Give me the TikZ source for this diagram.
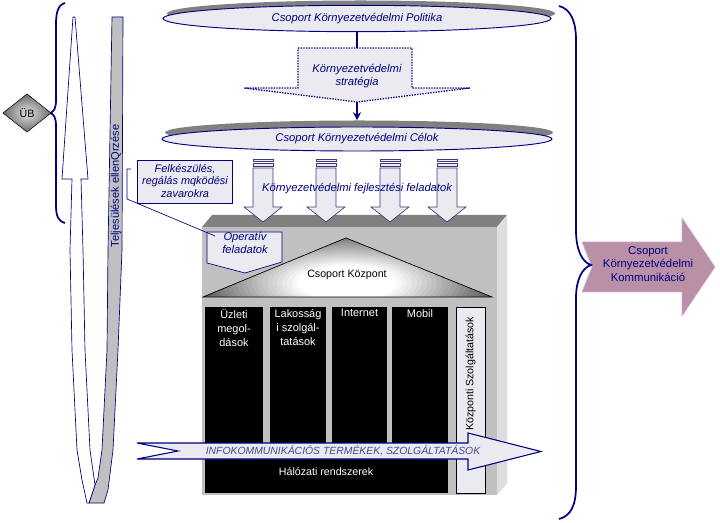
\documentclass[tikz,border=0pt]{standalone}
\usepackage{fontspec}
\setmainfont{Liberation Sans}
\usetikzlibrary{shapes.geometric,arrows.meta}
\definecolor{navy}{RGB}{0,0,128}
\definecolor{lightfill}{RGB}{234,234,240}
\definecolor{shadowgrey}{RGB}{128,128,128}
\definecolor{bldtop}{RGB}{128,128,128}
\definecolor{bldfront}{RGB}{192,192,192}
\definecolor{bldside}{RGB}{222,222,226}
\definecolor{mauve}{RGB}{186,144,166}
\definecolor{mauveline}{RGB}{205,175,215}
\definecolor{infotext}{RGB}{72,72,140}
\definecolor{arrowline}{RGB}{60,60,120}
\pgfdeclareradialshading{diamshade}{\pgfpoint{0bp}{0bp}}{color(0bp)=(rgb,1:red,0.88;green,0.88;blue,0.88); color(36bp)=(rgb,1:red,0.22;green,0.22;blue,0.22); color(50bp)=(rgb,1:red,0.22;green,0.22;blue,0.22)}
\begin{document}
\begin{tikzpicture}[x=0.75pt,y=-0.75pt,
  every node/.style={font=\fontsize{8}{10}\selectfont, inner sep=0pt, align=center},
  itext/.style={text=navy, font=\fontsize{8.4}{10}\selectfont\itshape},
  ellmain/.style={ellipse, draw=navy, fill=lightfill, line width=0.7pt},
  ellshadow/.style={ellipse, fill=shadowgrey},
  panel/.style={draw=navy, fill=lightfill, line width=0.5pt},
  bigbrace/.style={draw=navy, line width=1.3pt},
  conn/.style={draw=navy, line width=1.3pt},
  downarrow/.style={draw=arrowline, fill=lightfill, line width=0.5pt},
  coltext/.style={text=white, anchor=north, font=\fontsize{8.2}{10.7}\selectfont}
]
\useasboundingbox (0,0) rectangle (720,523);

% ---------- top ellipses and strategy ----------
\node[ellshadow, minimum width=291pt, minimum height=19.5pt] (politikashadow) at (361,13.5) {};
\node[ellmain, minimum width=291pt, minimum height=19.8pt, text=navy, font=\fontsize{8.4}{10}\selectfont\itshape] (politika) at (357,18.5) {Csoport Környezetvédelmi Politika};

\draw[draw=navy, fill=lightfill, line width=1pt, dash pattern=on 1pt off 1pt]
  (298,48) -- (412,48) -- (412,88) -- (470,88) -- (357,102) -- (244,88) -- (298,88) -- cycle;
\node[itext] (strategia) at (357,76) {Környezetvédelmi\\stratégia};
\coordinate (stratTop) at (357,48);
\coordinate (stratBot) at (357,102);

\node[ellshadow, minimum width=291pt, minimum height=18pt] (celokshadow) at (359,132.5) {};
\node[ellmain, minimum width=292.5pt, minimum height=18pt, text=navy, font=\fontsize{8.4}{10}\selectfont\itshape] (celok) at (357,139) {Csoport Környezetvédelmi Célok};

\draw[conn] (politika.south) -- (stratTop);
\draw[conn, -{Stealth[length=6pt,width=6pt]}] (stratBot) -- (stratBot |- celokshadow.north);

% ---------- building ----------
\fill[bldtop] (202,227) -- (212,215) -- (507,215) -- (497,227) -- cycle;
\fill[bldside] (497,227) -- (507,215) -- (507,484) -- (497,495) -- cycle;
\fill[bldfront] (202,227) rectangle (497,495);

\begin{scope}
  \clip (203,297) -- (346,238) -- (492,297) -- cycle;
  \foreach \i in {0,...,28} {
    \pgfmathsetmacro\rx{(160-5*\i)*0.75}
    \pgfmathsetmacro\ry{(160-5*\i)*0.75*0.35}
    \pgfmathsetmacro\wv{min(100,30+3.2*\i)}
    \fill[white!\wv!black] (347,283) ellipse [x radius=\rx pt, y radius=\ry pt];
  }
\end{scope}
\draw[black, line width=0.5pt] (203,297) -- (346,238) -- (492,297) -- cycle;
\node (kozpont) at (347,275) {Csoport Központ};

\fill[black] (205,307) rectangle (263,460);
\fill[black] (270,307) rectangle (326,460);
\fill[black] (332,307) rectangle (387,460);
\fill[black] (392,307) rectangle (448,460);
\fill[black] (205,450) rectangle (448,493);
\node[coltext] (uzleti) at (234,309) {Üzleti\\megol-\\dások};
\node[coltext] (lakossag) at (298,309) {Lakosság\\i szolgál-\\tatások};
\node[coltext] (internet) at (359.5,309) {Internet};
\node[coltext] (mobil) at (420,309) {Mobil};

\draw[black, fill=lightfill, line width=0.6pt] (456,307) rectangle (485,493);
\node[rotate=90] (kozpszolg) at (470.5,374) {Központi Szolgáltatások};

% big horizontal arrow
\draw[draw=navy, fill=lightfill, line width=0.8pt]
  (137,443) -- (468,443) -- (468,433) -- (541,451.5) -- (468,470) -- (468,459) -- (137,459) -- (178,451) -- cycle;
\node[text=infotext, font=\fontsize{7.8}{10}\selectfont\itshape] (infokom) at (343,451) {INFOKOMMUNIKÁCIÓS TERMÉKEK, SZOLGÁLTATÁSOK};
\node[text=white] (halozat) at (326,472) {Hálózati rendszerek};

% ---------- four down arrows ----------
\foreach \cx in {263,326,390,447} {
  \draw[downarrow] ({\cx-10},159.5) rectangle ({\cx+10},161.8);
  \draw[downarrow] ({\cx-10},163.5) rectangle ({\cx+10},166);
  \draw[downarrow] ({\cx-10},168) -- ({\cx+10},168) -- ({\cx+10},207) -- ({\cx+19},207)
     -- (\cx,222) -- ({\cx-19},207) -- ({\cx-10},207) -- cycle;
}
\node[itext] (fejl) at (357,189) {Környezetvédelmi fejlesztési feladatok};

% ---------- callouts ----------
\draw[panel] (137,160) rectangle (232,203);
\node[itext, font=\fontsize{8.2}{9.6}\selectfont\itshape] (felk) at (185,181) {Felkészülés,\\regálás mqködési\\zavarokra};
\draw[panel] (207,232) -- (282,232) -- (282,262) -- (245,273) -- (207,263) -- cycle;
\node[itext] (operativ) at (245,243) {Operatív\\feladatok};
\coordinate (accTop) at (131,169);
\coordinate (accBot) at (127,199);
\coordinate (leadEnd) at (215,236);
\draw[navy, line width=0.5pt] (accTop) -- (127,169) -- (accBot) -- (leadEnd);

% ---------- left U-turn arrow ----------
\draw[navy, fill=bldfront, line width=0.5pt]
  (112,17) -- (123,17) -- (122,250) -- (118,350) -- (113,450) -- (108,490) -- (104,503)
  -- (89,503) -- (95,485) -- (98,478) -- (102,450) -- (107,350) -- (108,250) -- cycle;
\draw[navy, fill=white, line width=0.5pt]
  (73,17) -- (75,17) -- (88,179) -- (81,179) -- (83,250) -- (85,350) -- (90,450) -- (95,485)
  -- (89,503) -- (87,503) -- (82,480) -- (77,450) -- (72,350) -- (70,250) -- (72,179) -- (62,179) -- cycle;
\node[rotate=90, text=navy, font=\fontsize{8.3}{10}\selectfont] (teljes) at (116,186) {Teljesülések ellenQrzése};

% ---------- left brace and diamond ----------
\draw[bigbrace] (65,3) .. controls (58,5) and (56,12) .. (56,25) -- (56,100)
  .. controls (56,108) and (54,112) .. (50,113) .. controls (54,114) and (56,118) .. (56,126)
  -- (56,205) .. controls (56,216) and (58,221) .. (65,223);
\shade[shading=diamshade] (3,113) -- (27,94) -- (51,113) -- (27,132) -- cycle;
\draw[black, line width=0.4pt] (3,113) -- (27,94) -- (51,113) -- (27,132) -- cycle;
\node (ub) at (27,113) {ÜB};

% ---------- right arrow and brace ----------
\draw[fill=mauve, draw=mauveline, line width=0.5pt]
  (582,242) -- (682,242) -- (682,218) -- (715,267) -- (682,316) -- (682,292) -- (582,292) -- (592,267) -- cycle;
\node[text=navy, font=\fontsize{8.5}{10.1}\selectfont] (komm) at (648,264) {Csoport\\Környezetvédelmi\\Kommunikáció};
\draw[bigbrace] (559,6) .. controls (571,9) and (576,22) .. (576,40) -- (576,230)
  .. controls (576,250) and (582,262) .. (591,265) .. controls (582,268) and (576,280) .. (576,298)
  -- (576,486) .. controls (576,505) and (571,516) .. (559,519);
\end{tikzpicture}
\end{document}
